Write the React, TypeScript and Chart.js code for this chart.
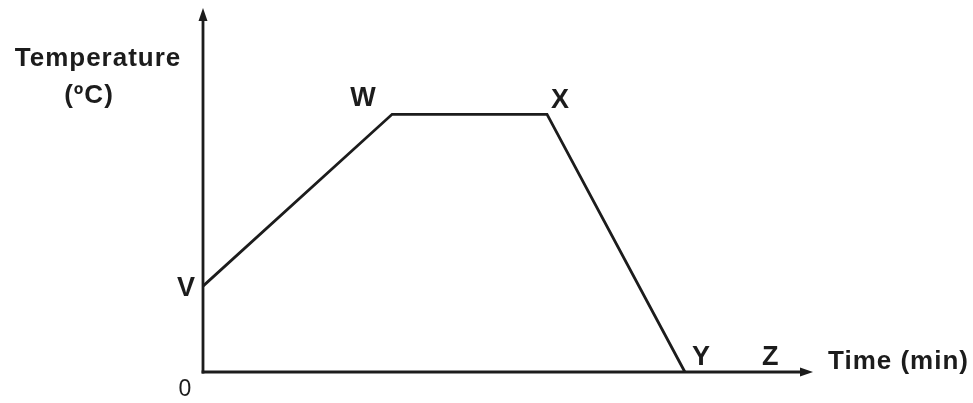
import React, { useEffect, useRef } from "react";
import { Chart, registerables } from "chart.js";

Chart.register(...registerables);

// Data (arbitrary units)
const pointLabels = ["V", "W", "X", "Y"];
const timeValues = [0, 3.1, 5.64, 7.9];
const tempValues = [2.36, 7.08, 7.08, 0];
const extraLabel = "Z";
const extraTime = 9.3;
const originLabel = "0";
const yTitleLines = ["Temperature", "(\u00BAC)"];
const xTitle = "Time (min)";
const xMax = 10;
const yMax = 10;

const INK = "#1c1c1c";
const FONT = '"Liberation Sans", Arial, sans-serif';

const labelOffsets: Record<string, [number, number]> = {
  V: [-17, 2],
  W: [-29, -16],
  X: [13, -14],
  Y: [16, -14],
  Z: [0, -14],
};

const decorPlugin = {
  id: "decor",
  afterDatasetsDraw(chart: any) {
    const ctx = chart.ctx as CanvasRenderingContext2D;
    const xs = chart.scales.x;
    const ys = chart.scales.y;
    const x0 = xs.getPixelForValue(0);
    const y0 = ys.getPixelForValue(0);
    const xEnd = xs.getPixelForValue(xMax);
    const yEnd = ys.getPixelForValue(yMax);
    ctx.save();
    ctx.strokeStyle = INK;
    ctx.fillStyle = INK;
    ctx.lineWidth = 2.8;
    ctx.lineCap = "square";
    // y axis
    ctx.beginPath();
    ctx.moveTo(x0, y0);
    ctx.lineTo(x0, yEnd + 8);
    ctx.stroke();
    // x axis
    ctx.beginPath();
    ctx.moveTo(x0, y0);
    ctx.lineTo(xEnd - 8, y0);
    ctx.stroke();
    // arrow heads
    ctx.beginPath();
    ctx.moveTo(x0, yEnd);
    ctx.lineTo(x0 - 4.5, yEnd + 13);
    ctx.lineTo(x0 + 4.5, yEnd + 13);
    ctx.closePath();
    ctx.fill();
    ctx.beginPath();
    ctx.moveTo(xEnd, y0);
    ctx.lineTo(xEnd - 13, y0 - 4.5);
    ctx.lineTo(xEnd - 13, y0 + 4.5);
    ctx.closePath();
    ctx.fill();

    ctx.textAlign = "center";
    ctx.textBaseline = "middle";
    (ctx as any).letterSpacing = "0px";
    ctx.font = `bold 27px ${FONT}`;
    pointLabels.forEach((lab, i) => {
      const px = xs.getPixelForValue(timeValues[i]);
      const py = ys.getPixelForValue(tempValues[i]);
      const [dx, dy] = labelOffsets[lab];
      ctx.fillText(lab, px + dx, py + dy);
    });
    {
      const [dx, dy] = labelOffsets[extraLabel];
      ctx.fillText(extraLabel, xs.getPixelForValue(extraTime) + dx, y0 + dy);
    }
    ctx.font = `23px ${FONT}`;
    ctx.fillText(originLabel, x0 - 18, y0 + 18);

    (ctx as any).letterSpacing = "1px";
    ctx.font = `bold 26px ${FONT}`;
    ctx.fillText(yTitleLines[0], 98, 59);
    ctx.fillText(yTitleLines[1], 89, 96);
    ctx.textAlign = "left";
    ctx.fillText(xTitle, xEnd + 15, y0 - 10);
    ctx.restore();
  },
};

export default function App() {
  const ref = useRef<HTMLCanvasElement>(null);
  useEffect(() => {
    document.body.style.margin = "0";
    const chart = new Chart(ref.current!, {
      type: "line",
      data: {
        datasets: [
          {
            data: timeValues.map((t, i) => ({ x: t, y: tempValues[i] })),
            borderColor: INK,
            borderWidth: 2.8,
            pointRadius: 0,
            tension: 0,
            fill: false,
            clip: false as any,
          },
        ],
      },
      options: {
        animation: false,
        responsive: true,
        maintainAspectRatio: false,
        layout: { padding: { left: 203, right: 160, top: 8, bottom: 31 } },
        scales: {
          x: { type: "linear", min: 0, max: xMax, display: false },
          y: { type: "linear", min: 0, max: yMax, display: false },
        },
        plugins: { legend: { display: false }, tooltip: { enabled: false } },
      },
      plugins: [decorPlugin],
    });
    return () => chart.destroy();
  }, []);
  return (
    <div style={{ position: "absolute", left: 0, top: 0, width: 973, height: 403, background: "#fff" }}>
      <canvas ref={ref} />
    </div>
  );
}
